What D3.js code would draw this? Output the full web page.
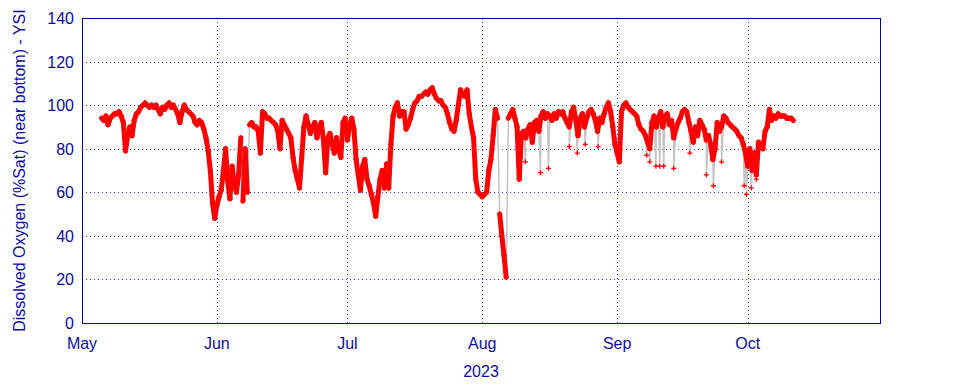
<!DOCTYPE html>
<html>
<head>
<meta charset="utf-8">
<title>Dissolved Oxygen</title>
<script src="https://cdn.jsdelivr.net/npm/d3@7"></script>
<style>
    body { margin: 0; background: #fff; }
    svg text { font-family: "Liberation Sans", Arial, sans-serif; fill: #0c0c9c; }
</style>
</head>
<body>
<svg id="chart" width="960" height="384"></svg>
<script>
/*jslint browser: true */

/*globals d3 */

// Readings every 12 hours, one list per month.
var mayStart = "2023-05-05T12:00";
var mayVals = [94, 93, 95, 91, 94, 95, 96, 96, 97, 95, 92, 79, 86, 90, 86, 93, 96, 97, 99, 100,
    101, 100, 99, 100, 99, 100, 98, 96, 99, 98, 100, 101, 99, 100, 98, 96, 92, 97, 100, 98,
    97, 96, 95, 92, 91, 93, 92, 89, 85, 79, 70, 55, 48];

var junStart = "2023-06-01T00:00";
var junVals = [54, 58, 61, 70, 80, 65, 57, 72, 63, 60, 68, 85, 56, 80, 60, 91, 92, 90, 90, 88,
    78, 97, 96, 94, 94, 93, 92, 91, 88, 80, 93, 91, 89, 87, 85, 76, 70, 66, 62, 76,
    90, 95, 91, 87, 90, 92, 85, 90, 92, 84, 69, 85, 87, 82, 78, 85, 80, 76, 92, 94];

var julStart = "2023-07-01T00:00";
var julVals = [84, 90, 94, 89, 75, 68, 61, 72, 75, 66, 63, 59, 55, 49, 58, 66, 70, 62, 73, 62,
    82, 95, 99, 101, 95, 97, 97, 89, 91, 94, 98, 101, 102, 104, 104, 105, 106, 105, 107, 108,
    105, 103, 102, 102, 100, 99, 96, 92, 89, 88, 93, 100, 107, 105, 104, 107, 96, 90, 85, 66,
    60, 59];

var augStart = "2023-08-01T00:00";
var augVals = [58, 59, 60, 70, 75, 86, 98, 94, 50, 40, 31, 21, 94, 96, 98, 94, 90, 66, 87, 88,
    85, 89, 91, 83, 92, 93, 88, 95, 97, 94, 96, 95, 93, 96, 94, 97, 96, 97, 94, 92,
    90, 97, 99, 93, 86, 94, 96, 90, 94, 97, 98, 96, 93, 88, 94, 92, 96, 99, 101, 97,
    90, 82];

var sepStart = "2023-09-01T00:00";
var sepVals = [78, 74, 97, 100, 101, 99, 98, 97, 96, 95, 91, 89, 88, 86, 83, 80, 92, 95, 90, 94,
    97, 90, 95, 96, 91, 93, 85, 89, 92, 94, 97, 98, 97, 92, 88, 83, 90, 86, 93, 91,
    89, 84, 86, 82, 75, 80, 92, 88, 90, 95, 94, 92, 91, 90, 89, 88, 86, 85, 82, 78];

var octStart = "2023-10-01T00:00";
var octVals = [72, 80, 70, 78, 68, 83, 82, 80, 88, 90, 98, 93, 95, 94, 96, 95, 95, 95, 94, 94,
    94, 93];

// Short drops that fall between the 12-hour readings.
var dipTimes = ["2023-08-10T22:00", "2023-08-14T09:00", "2023-08-16T05:00", "2023-08-21T00:00",
    "2023-08-22T20:00", "2023-08-24T16:00", "2023-08-27T15:00", "2023-09-07T19:00",
    "2023-09-08T12:00", "2023-09-09T22:00", "2023-09-10T19:00", "2023-09-11T17:00",
    "2023-09-14T00:00", "2023-09-17T17:00", "2023-09-21T12:00", "2023-09-23T03:00",
    "2023-09-25T00:00", "2023-09-30T05:00", "2023-09-30T17:00", "2023-10-01T20:00",
    "2023-10-03T00:00"];
var dipVals = [74, 69, 71, 81, 78, 82, 81, 77, 74, 72, 72, 72, 71, 78, 68, 63, 74, 63, 59, 62, 66];

var yTicks = [0, 20, 40, 60, 80, 100, 120, 140];
var yTitle = "Dissolved Oxygen (%Sat) (near bottom) - YSI";
var xTitle = "2023";

var parseTime = d3.timeParse("%Y-%m-%dT%H:%M");

function monthSeries(start, vals) {
    var t0 = parseTime(start);
    return vals.map(function (v, k) {
        return {date: d3.timeHour.offset(t0, k * 12), value: v};
    });
}

function byDate(a, b) {
    return a.date - b.date;
}

function draw() {
    var svg = d3.select("#chart"),
        left = 82,
        right = 880,
        top = 18,
        bottom = 323,
        navy = "#0000a0",
        jump = 24,
        main,
        dips,
        data,
        pairs,
        x,
        y,
        line,
        months;

    main = [].concat(
        monthSeries(mayStart, mayVals),
        monthSeries(junStart, junVals),
        monthSeries(julStart, julVals),
        monthSeries(augStart, augVals),
        monthSeries(sepStart, sepVals),
        monthSeries(octStart, octVals)
    );
    dips = dipTimes.map(function (t, i) {
        return {date: parseTime(t), value: dipVals[i]};
    });
    data = main.concat(dips).sort(byDate);

    // Neighbouring main readings; small steps form the dense red band.
    pairs = main.slice(1).map(function (d, i) {
        return [main[i], d];
    }).filter(function (p) {
        return Math.abs(p[1].value - p[0].value) <= jump;
    });

    x = d3.scaleTime()
        .domain([new Date(2023, 4, 1), new Date(2023, 9, 31, 10)])
        .range([left, right]);

    y = d3.scaleLinear()
        .domain([0, 140])
        .range([bottom, top]);

    months = d3.timeMonth.range(new Date(2023, 4, 1), new Date(2023, 10, 1));

    // Dotted grid.
    svg.append("g")
        .selectAll("line")
        .data(yTicks.slice(1, -1))
        .join("line")
        .attr("x1", left)
        .attr("x2", right)
        .attr("y1", function (d) { return Math.round(y(d)) + 0.5; })
        .attr("y2", function (d) { return Math.round(y(d)) + 0.5; })
        .style("stroke", "#2a2aff")
        .style("stroke-dasharray", "1,3");

    svg.append("g")
        .selectAll("line")
        .data(months.slice(1))
        .join("line")
        .attr("x1", function (d) { return Math.round(x(d)) + 0.5; })
        .attr("x2", function (d) { return Math.round(x(d)) + 0.5; })
        .attr("y1", top)
        .attr("y2", bottom)
        .style("stroke", "#2a2aff")
        .style("stroke-dasharray", "1,3");

    // Grey joining line, then the red band and crosses on top.
    line = d3.line()
        .x(function (d) { return x(d.date); })
        .y(function (d) { return y(d.value); });

    svg.append("path")
        .datum(data)
        .attr("d", line)
        .style("fill", "none")
        .style("stroke", "#c4c4c4")
        .style("stroke-width", 1.5);

    svg.append("g")
        .selectAll("path")
        .data(pairs)
        .join("path")
        .attr("d", line)
        .style("fill", "none")
        .style("stroke", "#ff0000")
        .style("stroke-width", 5)
        .style("stroke-linecap", "round");

    svg.append("g")
        .selectAll("path")
        .data(data)
        .join("path")
        .attr("transform", function (d) {
            return "translate(" + x(d.date) + "," + y(d.value) + ")";
        })
        .attr("d", "M-2.5,0H2.5M0,-2.5V2.5")
        .style("stroke", "#ff0000")
        .style("stroke-width", 1.3);

    // Frame.
    svg.append("rect")
        .attr("x", left + 0.5)
        .attr("y", top + 0.5)
        .attr("width", right - left)
        .attr("height", bottom - top)
        .style("fill", "none")
        .style("stroke", navy);

    // Tick labels.
    svg.append("g")
        .selectAll("text")
        .data(yTicks)
        .join("text")
        .attr("x", left - 8)
        .attr("y", function (d) { return y(d) + 6; })
        .attr("text-anchor", "end")
        .style("font-size", "16px")
        .text(function (d) { return d; });

    svg.append("g")
        .selectAll("text")
        .data(months)
        .join("text")
        .attr("x", function (d) { return x(d); })
        .attr("y", 349)
        .attr("text-anchor", "middle")
        .style("font-size", "16px")
        .text(d3.timeFormat("%b"));

    svg.append("text")
        .attr("x", (left + right) / 2)
        .attr("y", 377)
        .attr("text-anchor", "middle")
        .style("font-size", "16px")
        .text(xTitle);

    svg.append("text")
        .attr("transform", "translate(25," + (top + bottom) / 2 + ") rotate(-90)")
        .attr("text-anchor", "middle")
        .style("font-size", "16px")
        .text(yTitle);
}

draw();
</script>
</body>
</html>
